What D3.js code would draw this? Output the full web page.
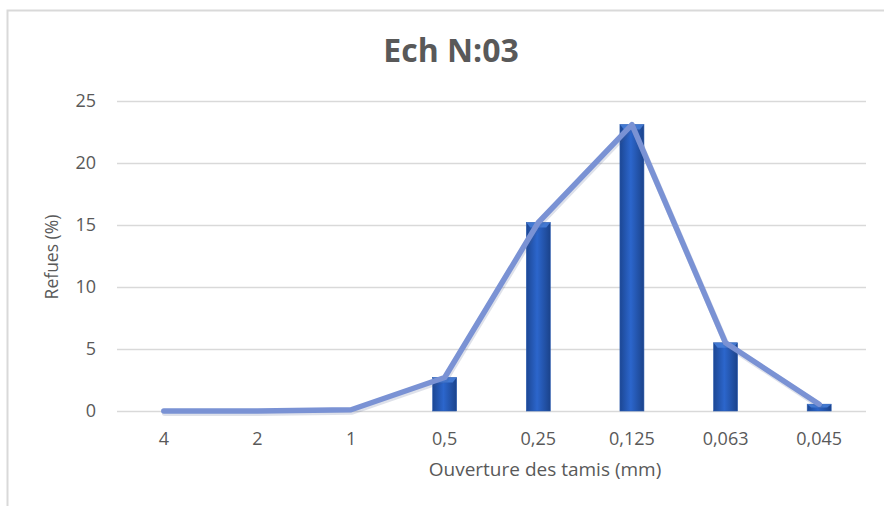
<!DOCTYPE html>
<html>
<head>
<meta charset="utf-8">
<script src="https://cdn.jsdelivr.net/npm/d3@7"></script>
<style>
  html, body { margin: 0; padding: 0; background: #fff; }
  svg { display: block; font-family: "Open Sans", "Noto Sans", sans-serif; }
</style>
</head>
<body>
<svg id="chart" width="884" height="506"></svg>
<script>
// Sieve openings (mm) and retained percentages
const categories = ["4", "2", "1", "0,5", "0,25", "0,125", "0,063", "0,045"];
const refus = [0, 0, 0.1, 2.7, 15.2, 23.1, 5.5, 0.55];
const yTicks = [0, 5, 10, 15, 20, 25];

const titleText = "Ech N:03";
const xTitle = "Ouverture des tamis (mm)";
const yTitle = "Refues (%)";

const svg = d3.select("#chart");
const W = 884, H = 506;
const plot = { left: 117, right: 866, top: 101, bottom: 411 };
const textColor = "#595959";

const defs = svg.append("defs");
const grad = defs.append("linearGradient").attr("id", "barGrad")
  .attr("x1", "0%").attr("x2", "100%").attr("y1", "0%").attr("y2", "0%");
grad.append("stop").attr("offset", "0%").attr("stop-color", "#1c4794");
grad.append("stop").attr("offset", "45%").attr("stop-color", "#2c66cc");
grad.append("stop").attr("offset", "100%").attr("stop-color", "#1b438b");

// chart frame
svg.append("path")
  .attr("d", `M7.5,${H} L7.5,10.5 L${W},10.5`)
  .attr("fill", "none").attr("stroke", "#d9d9d9").attr("stroke-width", 2);

const x = d3.scaleBand().domain(categories).range([plot.left, plot.right]).padding(0);
const y = d3.scaleLinear().domain([0, 25]).range([plot.bottom, plot.top]);

// gridlines
svg.append("g").selectAll("line").data(yTicks).join("line")
  .attr("x1", plot.left).attr("x2", plot.right)
  .attr("y1", d => Math.round(y(d)) + 0.5).attr("y2", d => Math.round(y(d)) + 0.5)
  .attr("stroke", "#d9d9d9").attr("stroke-width", 1.5);

// y tick labels
svg.append("g").selectAll("text").data(yTicks).join("text")
  .attr("x", 96).attr("y", d => y(d))
  .attr("dy", "0.36em").attr("text-anchor", "end")
  .attr("font-size", 18).attr("fill", textColor)
  .text(d => d);

// x tick labels
svg.append("g").selectAll("text").data(categories).join("text")
  .attr("x", d => x(d) + x.bandwidth() / 2).attr("y", 445)
  .attr("text-anchor", "middle")
  .attr("font-size", 18).attr("fill", textColor)
  .text(d => d);

// bars
const barW = 24;
const data = categories.map((c, i) => ({ c, v: refus[i] }));
const shown = data.filter(d => d.v > 0.3);
svg.append("g").selectAll("rect").data(shown).join("rect")
  .attr("x", d => x(d.c) + x.bandwidth() / 2 - barW / 2)
  .attr("width", barW)
  .attr("y", d => y(d.v))
  .attr("height", d => y(0) - y(d.v))
  .attr("fill", "url(#barGrad)")
  .attr("stroke", "#2a5aad").attr("stroke-width", 0.6);

// bevel highlight on bar tops
svg.append("g").selectAll("path").data(shown).join("path")
  .attr("d", d => {
    const cx = x(d.c) + x.bandwidth() / 2, t = y(d.v);
    const h = Math.min(5, (y(0) - t) / 2);
    return `M${cx - barW / 2},${t} L${cx + barW / 2},${t} L${cx + barW / 2 - 4},${t + h} L${cx - barW / 2 + 4},${t + h} Z`;
  })
  .attr("fill", "#4a82dc").attr("opacity", 0.8);

// line
const line = d3.line()
  .x(d => x(d.c) + x.bandwidth() / 2)
  .y(d => y(d.v));
svg.append("path").datum(data)
  .attr("d", line)
  .attr("fill", "none").attr("stroke", "#4a5a8a").attr("stroke-opacity", 0.18)
  .attr("stroke-width", 6).attr("stroke-linejoin", "round").attr("stroke-linecap", "round")
  .attr("transform", "translate(1,2)");
svg.append("path").datum(data)
  .attr("d", line)
  .attr("fill", "none").attr("stroke", "#7a92d4")
  .attr("stroke-width", 5.5).attr("stroke-linejoin", "round").attr("stroke-linecap", "round");

// titles
svg.append("text").attr("x", 451).attr("y", 62)
  .attr("text-anchor", "middle").attr("font-size", 32).attr("font-weight", "bold")
  .attr("fill", textColor).text(titleText);

svg.append("text").attr("x", 545).attr("y", 476)
  .attr("text-anchor", "middle").attr("font-size", 19).attr("fill", textColor)
  .text(xTitle);

svg.append("text")
  .attr("transform", "translate(52,257) rotate(-90)")
  .attr("dy", "0.35em").attr("text-anchor", "middle")
  .attr("font-size", 17.5).attr("fill", textColor)
  .text(yTitle);
</script>
</body>
</html>
